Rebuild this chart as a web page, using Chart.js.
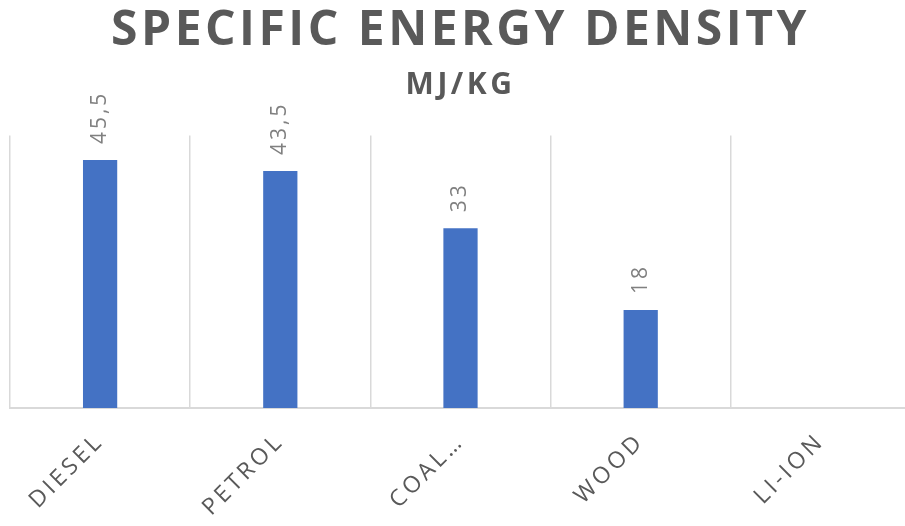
<!DOCTYPE html>
<html>
<head>
<meta charset="utf-8">
<script src="https://cdn.jsdelivr.net/npm/chart.js@4"></script>
<style>
html,body{margin:0;padding:0;overflow:hidden;background:#fff;}
#wrap{width:912px;height:526px;}
</style>
</head>
<body>
<div id="wrap"><canvas id="c" width="912" height="526"></canvas></div>
<script>
const categories = ['DIESEL', 'PETROL', 'COAL…', 'WOOD', 'LI-ION'];
const energyValues = [45.5, 43.5, 33, 18, null];
const titleText = 'SPECIFIC ENERGY DENSITY';
const subtitleText = 'MJ/KG';

const spacingPlugin = {
  id: 'spacing',
  beforeDraw(chart) { chart.ctx.letterSpacing = '3.5px'; },
  afterDraw(chart) { chart.ctx.letterSpacing = '0px'; }
};

const valueLabels = {
  id: 'valueLabels',
  afterDatasetsDraw(chart) {
    const ctx = chart.ctx;
    const meta = chart.getDatasetMeta(0);
    meta.data.forEach((bar, i) => {
      const v = chart.data.datasets[0].data[i];
      if (v === null || v === undefined) return;
      ctx.save();
      ctx.letterSpacing = '3px';
      ctx.translate(bar.x, bar.y - 16);
      ctx.rotate(-Math.PI / 2);
      ctx.font = '21px "Open Sans", sans-serif';
      ctx.fillStyle = '#808080';
      ctx.textAlign = 'left';
      ctx.textBaseline = 'middle';
      ctx.fillText(String(v).replace('.', ','), 0, 0);
      ctx.restore();
    });
  }
};

new Chart(document.getElementById('c'), {
  type: 'bar',
  data: {
    labels: categories,
    datasets: [{
      data: energyValues,
      backgroundColor: '#4472C4',
      categoryPercentage: 1,
      barPercentage: 0.19
    }]
  },
  options: {
    responsive: false,
    animation: false,
    devicePixelRatio: 1,
    layout: { padding: { left: 10, right: 1, top: 0, bottom: 0 } },
    plugins: {
      legend: { display: false },
      tooltip: { enabled: false },
      title: {
        display: true,
        text: titleText,
        color: '#595959',
        font: { family: 'Open Sans', size: 48, weight: 'bold', lineHeight: 1.2 },
        padding: { top: 3, bottom: 0 }
      },
      subtitle: {
        display: true,
        text: subtitleText,
        color: '#595959',
        font: { family: 'Open Sans', size: 30, weight: 'bold', lineHeight: 1.2 },
        padding: { top: 7, bottom: 32 }
      }
    },
    scales: {
      y: { display: false, min: 0, max: 50 },
      x: {
        offset: true,
        grid: { display: true, offset: true, color: '#d9d9d9', lineWidth: 1.5, drawTicks: false },
        border: { display: true, color: '#d9d9d9', width: 2 },
        ticks: {
          color: '#595959',
          font: { family: 'Open Sans', size: 23 },
          minRotation: 45,
          maxRotation: 45,
          padding: 20,
          autoSkip: false
        },
        afterFit(scale) {
          scale.paddingLeft = 0;
          scale.paddingRight = 0;
          scale.height = 118;
        }
      }
    }
  },
  plugins: [spacingPlugin, valueLabels]
});
</script>
</body>
</html>
